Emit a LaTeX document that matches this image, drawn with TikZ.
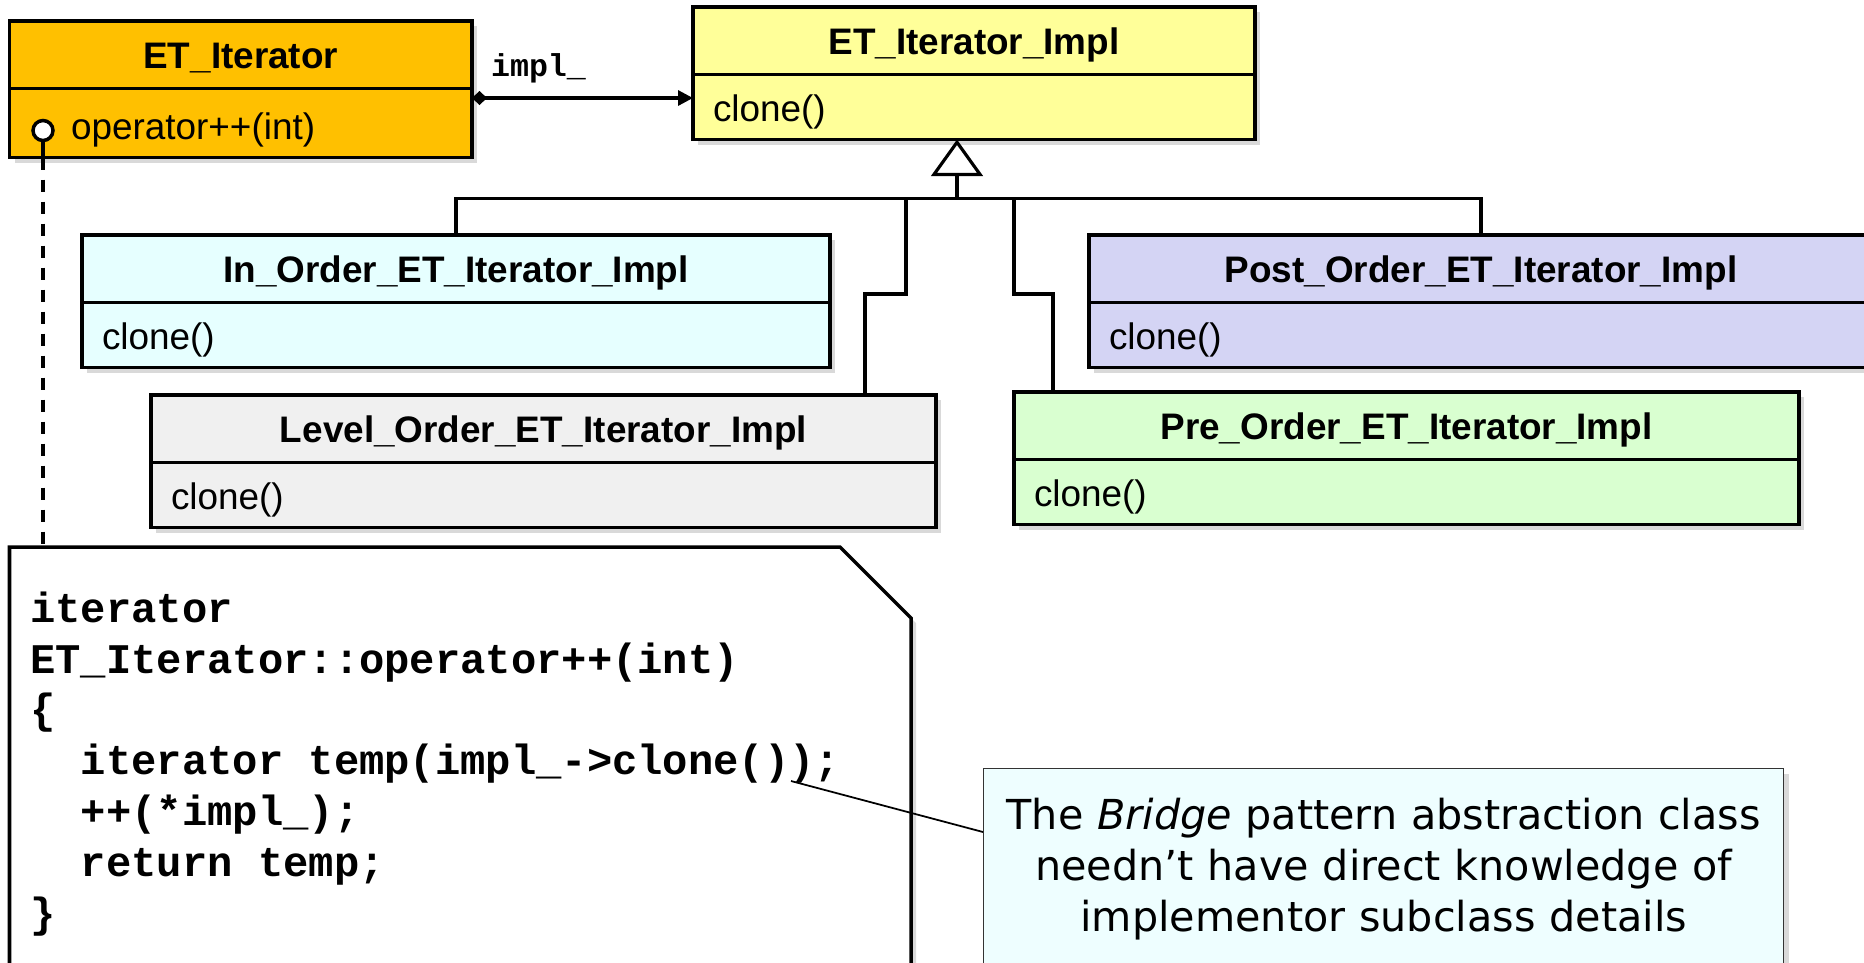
\documentclass[tikz,border=0pt]{standalone}
\usepackage{fontspec}
\setmainfont{Liberation Sans}
\setmonofont{Liberation Mono}
\newfontfamily\notefont{DejaVu Sans}
\usetikzlibrary{positioning,arrows.meta,shadows}
\definecolor{iterorange}{HTML}{FFC000}
\definecolor{implyellow}{HTML}{FFFF99}
\definecolor{inordcyan}{HTML}{E6FFFF}
\definecolor{postlav}{HTML}{D4D4F4}
\definecolor{levelgray}{HTML}{F0F0F0}
\definecolor{pregreen}{HTML}{D9FFD0}
\definecolor{notecyan}{HTML}{EEFEFF}

\begin{document}
\begin{tikzpicture}[
    myshadow/.style={drop shadow={shadow xshift=0.1cm, shadow yshift=-0.1cm, opacity=0.3}},
    classhead/.style={rectangle, draw, line width=2pt, outer sep=0pt, minimum height=1.35cm, text height=16pt, text depth=0pt, font=\fontsize{21}{25}\selectfont\bfseries, myshadow},
    classbody/.style={rectangle, draw, line width=2pt, outer sep=0pt, minimum height=1.30cm, text height=16pt, text depth=0pt, inner xsep=0.4cm, align=left, font=\fontsize{21}{25}\selectfont, myshadow},
    mylink/.style={line width=1.8pt},
    codebox/.style={line width=2pt, fill=white, myshadow},
]
\useasboundingbox (0,0) rectangle (37.28,-19.24);

\node[classhead, fill=iterorange, minimum width=9.25cm, anchor=north west] (iter) at (0.19,-0.42) {ET\_Iterator};
\node[classbody, fill=iterorange, minimum width=9.25cm, text width=8.45cm, minimum height=1.38cm, text height=19pt, below=0pt of iter] (iterb) {\hspace*{0.83cm}operator++(int)};

\node[classhead, fill=implyellow, minimum width=11.24cm, anchor=north west] (impl) at (13.86,-0.14) {ET\_Iterator\_Impl};
\node[classbody, fill=implyellow, minimum width=11.24cm, text width=10.44cm, below=0pt of impl] (implb) {clone()};

\node[classhead, fill=inordcyan, minimum width=14.96cm, anchor=north west] (inord) at (1.64,-4.70) {In\_Order\_ET\_Iterator\_Impl};
\node[classbody, fill=inordcyan, minimum width=14.96cm, text width=14.16cm, below=0pt of inord] (inordb) {clone()};

\node[classhead, fill=postlav, minimum width=15.68cm, anchor=north west] (post) at (21.78,-4.70) {Post\_Order\_ET\_Iterator\_Impl};
\node[classbody, fill=postlav, minimum width=15.68cm, text width=14.88cm, below=0pt of post] (postb) {clone()};

\node[classhead, fill=levelgray, minimum width=15.70cm, anchor=north west] (level) at (3.02,-7.90) {Level\_Order\_ET\_Iterator\_Impl};
\node[classbody, fill=levelgray, minimum width=15.70cm, text width=14.90cm, below=0pt of level] (levelb) {clone()};

\node[classhead, fill=pregreen, minimum width=15.70cm, anchor=north west] (pre) at (20.28,-7.84) {Pre\_Order\_ET\_Iterator\_Impl};
\node[classbody, fill=pregreen, minimum width=15.70cm, text width=14.90cm, below=0pt of pre] (preb) {clone()};

\coordinate (assocstart) at ([yshift=-0.19cm]iterb.north east);
\draw[mylink, {Diamond[length=0.3cm, width=0.28cm]}-{Triangle[length=0.3cm, width=0.3cm]}] (assocstart) -- (assocstart -| implb.west);
\node[font=\fontsize{18}{20}\selectfont\ttfamily\bfseries] (role) at (10.77,-1.36) {impl\_};

\coordinate (bus) at (19.14,-3.97);
\draw[mylink, -{Triangle[open, fill=white, length=0.73cm, width=1.03cm]}] (bus) -- (bus |- implb.south);
\draw[mylink] (inord.north) |- (bus) -| (post.north);
\coordinate (lvjog) at (18.12,-5.88);
\draw[mylink] (lvjog |- bus) -- (lvjog) -| ([xshift=-1.42cm]level.north east);
\coordinate (prjog) at (20.28,-5.88);
\draw[mylink] (prjog |- bus) -- (prjog) -| ([xshift=0.78cm]pre.north west);

\draw[codebox] (0.19,-10.94) -- (16.80,-10.94) -- (18.22,-12.36) -- (18.22,-19.8) -- (0.19,-19.8) -- cycle;
\coordinate (notetop) at (0.86,-10.94);
\node[font=\fontsize{24}{28.9}\selectfont\ttfamily\bfseries, align=left, anchor=north west, inner sep=0pt] (code) at (0.60,-11.83) {iterator\\
ET\_Iterator::operator++(int)\\
\{\\
\hspace*{1.2em}iterator temp(impl\_->clone());\\
\hspace*{1.2em}++(*impl\_);\\
\hspace*{1.2em}return temp;\\
\}};

\node[circle, draw, fill=white, line width=2pt, minimum size=0.4cm, inner sep=0pt] (dot) at ([xshift=0.67cm, yshift=-0.15cm]iterb.west) {};
\draw[line width=1.8pt] (dot.south) -- (dot |- iterb.south);
\draw[line width=1.8pt, dash pattern=on 0.24cm off 0.2cm] (dot |- iterb.south) -- (notetop);

\node[draw=black!80, line width=0.8pt, fill=notecyan, minimum width=16cm, minimum height=4cm, anchor=north west, inner xsep=0.05cm, text width=15.9cm, align=center, font=\notefont\fontsize{23.5}{29}\selectfont, myshadow] (callout) at (19.66,-15.36) {The \textit{Bridge} pattern abstraction class\\ needn’t have direct knowledge of\\ implementor subclass details};
\coordinate (clonept) at (15.82,-15.62);
\draw[line width=1pt] (clonept) -- ([yshift=-1.28cm]callout.north west);
\end{tikzpicture}
\end{document}
